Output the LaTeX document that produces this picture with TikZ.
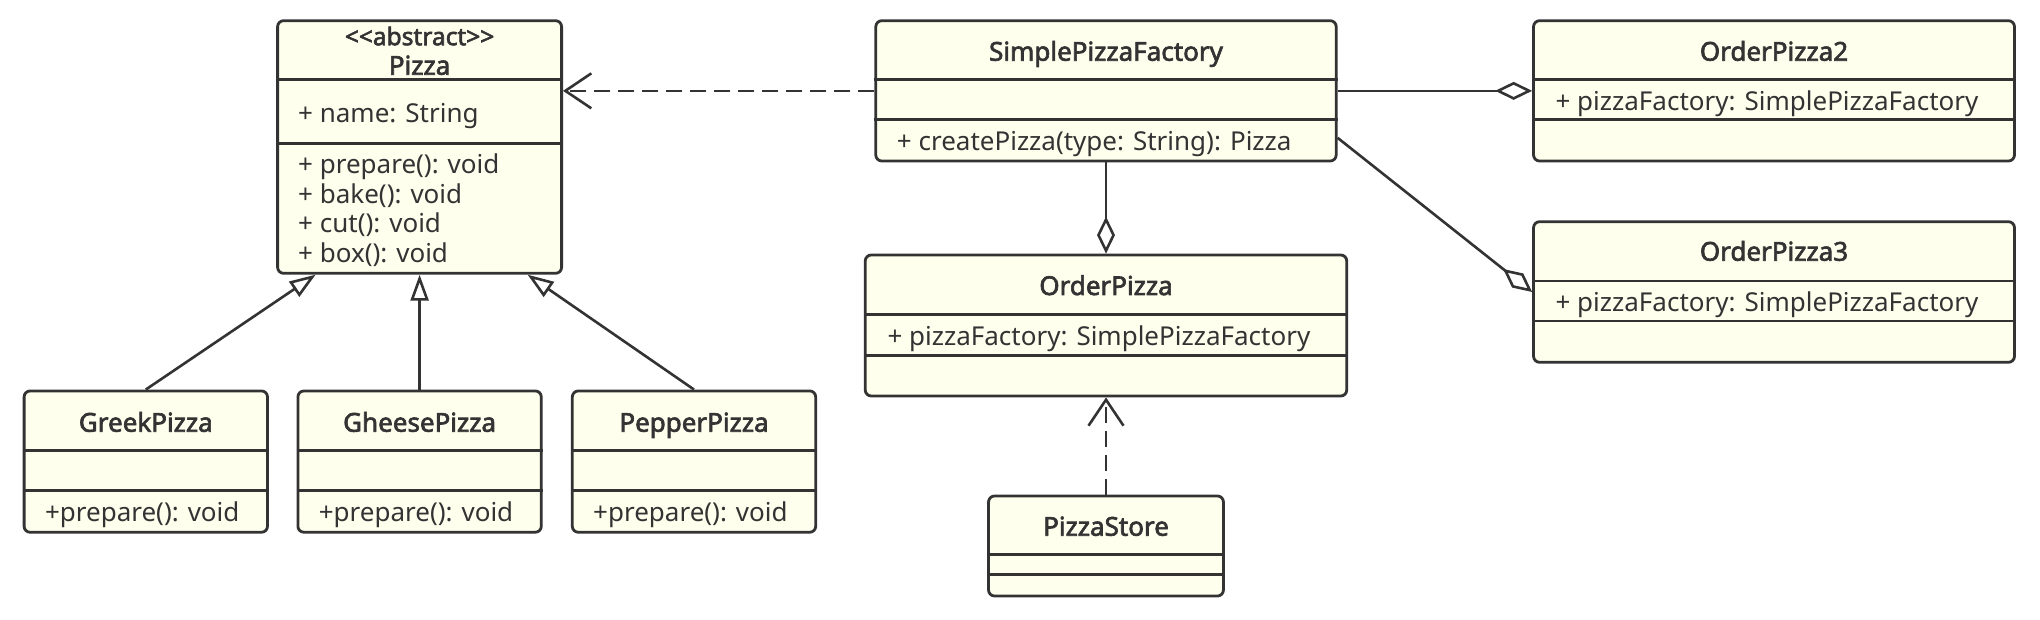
\documentclass[tikz,border=0pt]{standalone}
\usepackage{fontspec}
\setmainfont{Noto Sans}
\newfontfamily\titlefont[FakeBold=2.5]{Noto Sans}
\usetikzlibrary{arrows.meta}
\definecolor{umlfill}{HTML}{FFFFEE}
\definecolor{umlline}{HTML}{333333}
\tikzset{
  classbox/.style={draw=umlline, fill=umlfill, line width=2.8pt, rounded corners=6pt, inner sep=0pt},
  sepline/.style={draw=umlline, line width=2.6pt},
  classname/.style={font=\titlefont\fontsize{26}{30}\selectfont, text=umlline, inner sep=0pt, text height=18pt, text depth=0pt},
  stereo/.style={font=\titlefont\fontsize{24.5}{26}\selectfont, text=umlline, inner sep=0pt, text height=17pt, text depth=0pt},
  member/.style={font=\fontsize{26}{30}\selectfont, text=umlline, inner sep=0pt, text height=18pt, text depth=0pt, anchor=west},
  inherit/.style={draw=umlline, line width=2.6pt, -{Triangle[open, length=26pt, width=18pt]}},
  depend/.style={draw=umlline, line width=2.6pt, dash pattern=on 16pt off 8pt, -{Straight Barb[length=26pt, width=35pt]}},
  aggreg/.style={draw=umlline, line width=2.6pt, -{Diamond[open, length=37pt, width=18pt]}},
}
% separator line inside a class box, #2 pt below its top
\newcommand{\classline}[2]{\draw[sepline] ([yshift=-#2pt]#1.north west) -- ([yshift=-#2pt]#1.north east);}
\begin{document}
\begin{tikzpicture}[x=1pt, y=-1pt]
	\useasboundingbox (0,0) rectangle (2040,620);
	
	% abstract class
	\node[classbox, minimum width=284pt, minimum height=252.6pt] (pizza) at (419.6,147) {};
	\classline{pizza}{60}
	\classline{pizza}{124.3}
	\node[stereo] (pizza-stereo) at (419.6,36.7) {<<abstract>>};
	\node[classname] (pizza-name) at (419.6,65.7) {Pizza};
	\node[member] (pizza-attr) at (298,113.3) {+ name: String};
	\node[member] (pizza-m1) at (298,164.3) {+ prepare(): void};
	\node[member] (pizza-m2) at (298,194.3) {+ bake(): void};
	\node[member] (pizza-m3) at (298,224) {+ cut(): void};
	\node[member] (pizza-m4) at (298,254) {+ box(): void};
	
	% subclasses
	\foreach \cls/\cx/\title in {greek/145.8/GreekPizza, cheese/419.6/GheesePizza, pepper/694/PepperPizza}{
		\node[classbox, minimum width=243.4pt, minimum height=141.3pt] (\cls) at (\cx,461.6) {};
		\classline{\cls}{60.7}
		\classline{\cls}{101}
		\node[classname] (\cls-name) at (\cx,422.7) {\title};
		\node[member] (\cls-m1) at (\cx-101,512.7) {+prepare(): void};
	}
	
	% factory
	\node[classbox, minimum width=460.4pt, minimum height=140.3pt] (factory) at (1106,90.85) {};
	\classline{factory}{60}
	\classline{factory}{100.3}
	\node[classname] (factory-name) at (1106,51.7) {SimplePizzaFactory};
	\node[member] (factory-m1) at (896.7,141.7) {+ createPizza(type: String): Pizza};
	
	% clients
	\node[classbox, minimum width=481.5pt, minimum height=141pt] (order) at (1106,325.5) {};
	\classline{order}{60.7}
	\classline{order}{101.7}
	\node[classname] (order-name) at (1106,286) {OrderPizza};
	\node[member] (order-attr) at (887.3,336) {+ pizzaFactory: SimplePizzaFactory};
	
	\node[classbox, minimum width=480.9pt, minimum height=140.3pt] (order2) at (1774,90.85) {};
	\classline{order2}{60.3}
	\classline{order2}{100.3}
	\node[classname] (order2-name) at (1774,51.7) {OrderPizza2};
	\node[member] (order2-attr) at (1555.4,101.7) {+ pizzaFactory: SimplePizzaFactory};
	
	\node[classbox, minimum width=480.9pt, minimum height=140.6pt] (order3) at (1774,292) {};
	\classline{order3}{60.6}
	\classline{order3}{100.6}
	\node[classname] (order3-name) at (1774,251.7) {OrderPizza3};
	\node[member] (order3-attr) at (1555.4,302.3) {+ pizzaFactory: SimplePizzaFactory};
	
	\node[classbox, minimum width=234.9pt, minimum height=100pt] (store) at (1106,546) {};
	\classline{store}{60}
	\classline{store}{80}
	\node[classname] (store-name) at (1106,526.7) {PizzaStore};
	
	% inheritance
	\draw[inherit] (greek.north) -- ([xshift=-104pt]pizza.south);
	\draw[inherit] (cheese.north) -- (pizza.south);
	\draw[inherit] (pepper.north) -- ([xshift=108pt]pizza.south);
	
	% dependency
	\draw[depend] (factory.west) -- (factory.west -| pizza.east);
	\draw[depend] (store.north) -- (order.south);
	
	% aggregation
	\draw[aggreg] (factory.south) -- (order.north);
	\draw[aggreg] (factory.east) -- (factory.east -| order2.west);
	\draw[aggreg] ([yshift=-47pt]factory.east) -- (order3.west);
\end{tikzpicture}
\end{document}
